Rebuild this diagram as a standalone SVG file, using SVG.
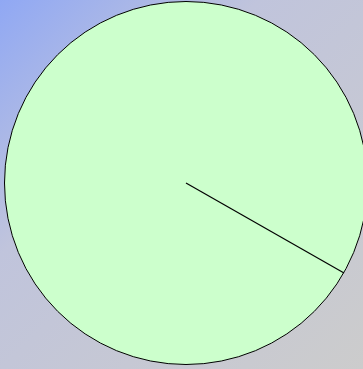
<svg xmlns="http://www.w3.org/2000/svg" width="363" height="369" viewBox="0 0 363 369">
<defs>
<linearGradient id="bg" x1="0" y1="0" x2="363" y2="369" gradientUnits="userSpaceOnUse">
<stop offset="0" stop-color="#90a8f4"/>
<stop offset="0.35" stop-color="#c0c4dc"/>
<stop offset="1" stop-color="#cccccc"/>
</linearGradient>
<style>
.pie{fill:#ccffcc;stroke:#000;stroke-width:1}
.edge{stroke:#000;stroke-width:1.2;fill:none}
</style>
</defs>
<rect width="363" height="369" fill="url(#bg)"/>
<g id="circle">
<circle class="pie" cx="186" cy="183" r="181.5"/>
</g>
<g id="connectors">
<line class="edge" x1="186" y1="183" x2="344" y2="273"/>
</g>
</svg>
